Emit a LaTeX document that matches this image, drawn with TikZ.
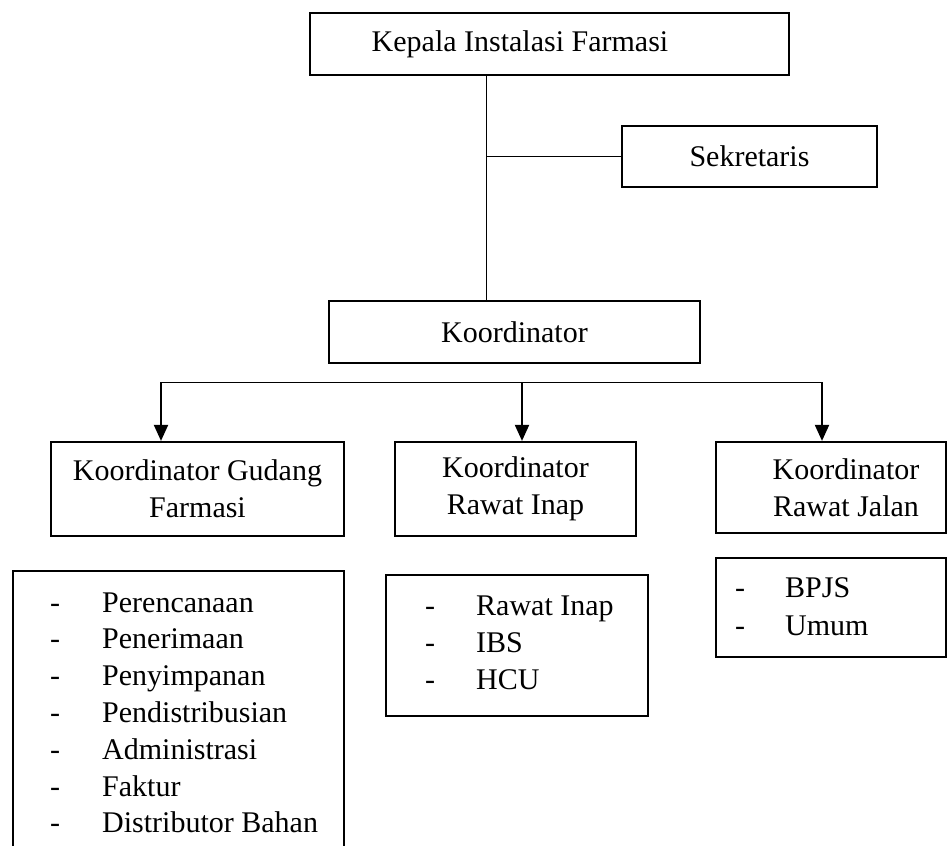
\documentclass[tikz,border=0pt]{standalone}
\usepackage{fontspec}
\setmainfont{Liberation Serif}
\usetikzlibrary{arrows.meta}
\begin{document}
\begin{tikzpicture}[x=1pt,y=-1pt,
  box/.style={draw,line width=2.2pt,rectangle,inner sep=0pt,align=center,
    font=\fontsize{30}{37}\selectfont},
  label/.style={align=center,inner sep=0pt,font=\fontsize{30}{37}\selectfont},
  thin/.style={line width=1pt},
  arr/.style={line width=2pt,-{Triangle[length=16pt,width=14pt]}},
  item/.style={anchor=base west,inner sep=0pt,font=\fontsize{30}{37}\selectfont},
  dashitem/.style={anchor=base,inner sep=0pt,font=\fontsize{30}{37}\selectfont}]
\useasboundingbox (0,0) rectangle (948,846);
\clip (0,0) rectangle (948,846);
% main boxes
\node[box,minimum width=479pt,minimum height=62pt] (kepala) at (549.5,44) {};
\node[label] (kepalatext) at (520,44) {Kepala Instalasi Farmasi};
\node[box,minimum width=255pt,minimum height=61pt] (sekretaris) at (749.5,156.5) {Sekretaris};
\node[box,minimum width=371pt,minimum height=62pt] (koord) at (514.5,332) {Koordinator};
\node[box,minimum width=293pt,minimum height=94pt] (gudang) at (197.5,489) {Koordinator Gudang\\Farmasi};
\node[box,minimum width=241pt,minimum height=94pt] (rinap) at (515.5,489) {Koordinator\\Rawat Inap};
\node[box,minimum width=230pt,minimum height=91pt] (rjalan) at (831,487.5) {};
\node[label] (rjalantext) at (846,487.5) {Koordinator\\Rawat Jalan};
% connectors
\coordinate (trunk) at (486,0);
\draw[thin] (kepala.south -| trunk) -- (koord.north -| trunk);
\draw[thin] (trunk |- sekretaris.west) -- (sekretaris.west);
\coordinate (bl) at (161,382);
\coordinate (bm) at (522,382);
\coordinate (br) at (822,382);
\draw[thin] (bl) -- (br);
\draw[arr] (bl) -- (bl |- gudang.north);
\draw[arr] (bm) -- (bm |- rinap.north);
\draw[arr] (br) -- (br |- rjalan.north);
% list boxes
\draw[line width=2.2pt] (13,571) rectangle (344,880);
\foreach \t [count=\i] in {Perencanaan,Penerimaan,Penyimpanan,Pendistribusian,Administrasi,Faktur,Distributor Bahan}{
  \node[dashitem] (ga\i) at (55,{612+36.8*(\i-1)}) {-};
  \node[item] (gb\i) at (102,{612+36.8*(\i-1)}) {\t};
}
\draw[line width=2.2pt] (386,575) rectangle (648,716);
\foreach \t [count=\i] in {Rawat Inap,IBS,HCU}{
  \node[dashitem] (ra\i) at (430,{615+37*(\i-1)}) {-};
  \node[item] (rb\i) at (476,{615+37*(\i-1)}) {\t};
}
\draw[line width=2.2pt] (716,558) rectangle (946,657);
\foreach \t [count=\i] in {BPJS,Umum}{
  \node[dashitem] (ja\i) at (740,{597+38*(\i-1)}) {-};
  \node[item] (jb\i) at (785,{597+38*(\i-1)}) {\t};
}
\end{tikzpicture}
\end{document}
